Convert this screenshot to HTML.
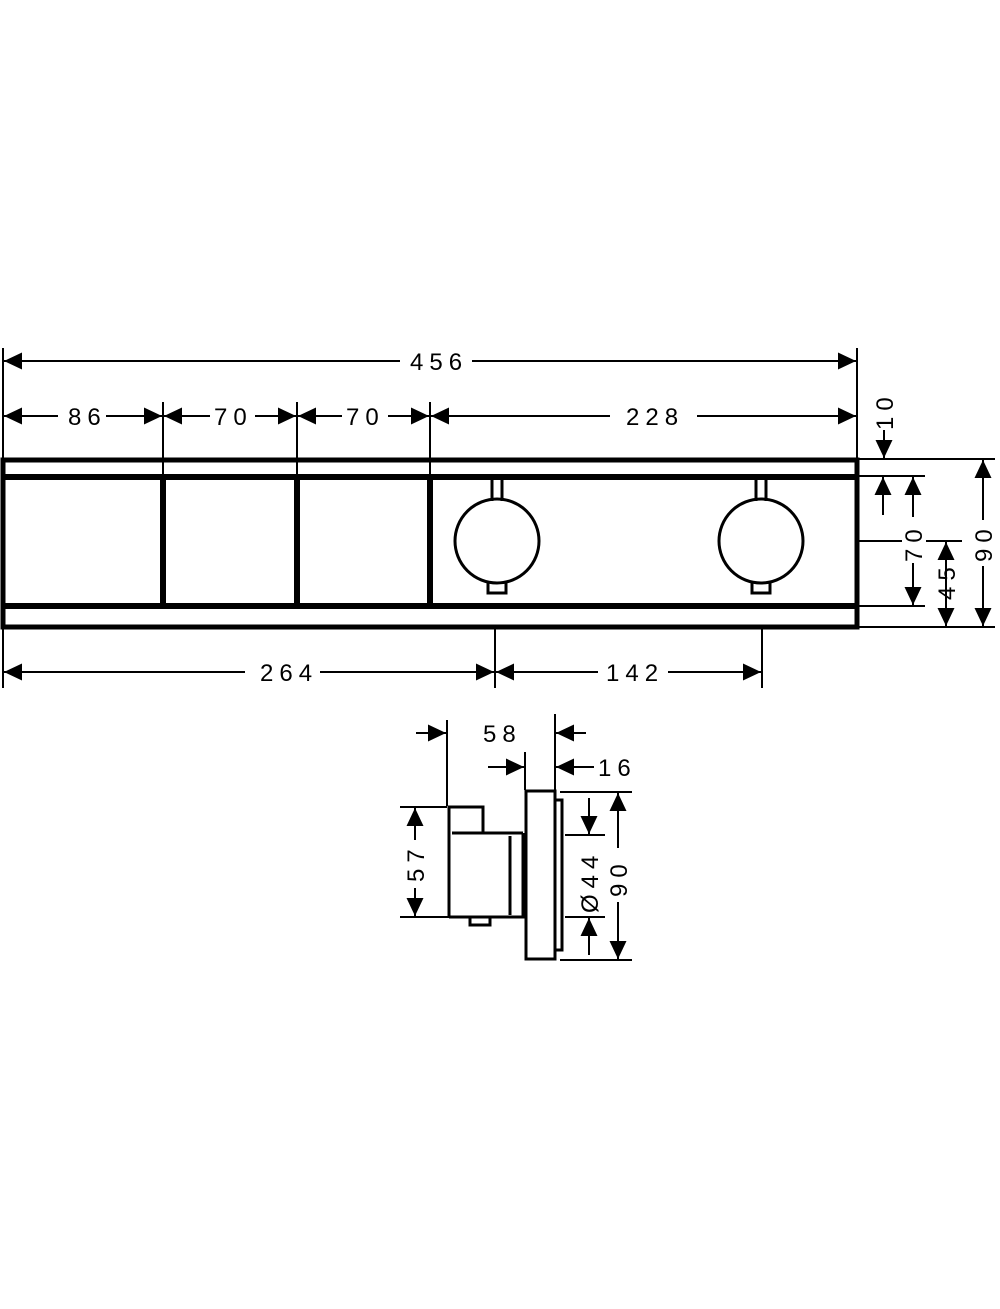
<!DOCTYPE html>
<html><head><style>body{margin:0;background:#fff}svg{display:block}text{font-family:"Liberation Sans",sans-serif;font-size:24px;letter-spacing:6px;fill:#000}</style></head><body>
<svg width="1000" height="1309" viewBox="0 0 1000 1309" xmlns="http://www.w3.org/2000/svg">
<defs>
<marker id="a" viewBox="0 0 10 10" refX="10" refY="5" markerWidth="18" markerHeight="17" markerUnits="userSpaceOnUse" orient="auto-start-reverse" preserveAspectRatio="none"><path d="M0,0L10,5L0,10z"/></marker>
</defs>
<g stroke="#000" stroke-width="2" fill="none">
<line x1="3" y1="348" x2="3" y2="459"/>
<line x1="857" y1="348" x2="857" y2="459"/>
<line x1="4" y1="361" x2="400" y2="361" marker-start="url(#a)"/>
<line x1="472" y1="361" x2="856" y2="361" marker-end="url(#a)"/>
<line x1="163" y1="402" x2="163" y2="476"/>
<line x1="297" y1="402" x2="297" y2="476"/>
<line x1="430" y1="402" x2="430" y2="476"/>
<line x1="4" y1="416" x2="58" y2="416" marker-start="url(#a)"/>
<line x1="106" y1="416" x2="162" y2="416" marker-end="url(#a)"/>
<line x1="164" y1="416" x2="210" y2="416" marker-start="url(#a)"/>
<line x1="255" y1="416" x2="296" y2="416" marker-end="url(#a)"/>
<line x1="298" y1="416" x2="342" y2="416" marker-start="url(#a)"/>
<line x1="388" y1="416" x2="429" y2="416" marker-end="url(#a)"/>
<line x1="431" y1="416" x2="610" y2="416" marker-start="url(#a)"/>
<line x1="697" y1="416" x2="856" y2="416" marker-end="url(#a)"/>
<line x1="3" y1="627" x2="3" y2="688"/>
<line x1="495" y1="627" x2="495" y2="688"/>
<line x1="762" y1="627" x2="762" y2="688"/>
<line x1="4" y1="672" x2="245" y2="672" marker-start="url(#a)"/>
<line x1="320" y1="672" x2="494" y2="672" marker-end="url(#a)"/>
<line x1="496" y1="672" x2="598" y2="672" marker-start="url(#a)"/>
<line x1="668" y1="672" x2="761" y2="672" marker-end="url(#a)"/>
<line x1="857" y1="459" x2="995" y2="459"/>
<line x1="857" y1="476" x2="925" y2="476"/>
<line x1="857" y1="541" x2="902" y2="541"/>
<line x1="926" y1="541" x2="962" y2="541"/>
<line x1="857" y1="606" x2="925" y2="606"/>
<line x1="857" y1="627" x2="995" y2="627"/>
<line x1="884" y1="430" x2="884" y2="458" marker-end="url(#a)"/>
<line x1="883" y1="515" x2="883" y2="477" marker-end="url(#a)"/>
<line x1="913" y1="517" x2="913" y2="477" marker-end="url(#a)"/>
<line x1="913" y1="563" x2="913" y2="605" marker-end="url(#a)"/>
<line x1="946" y1="600" x2="946" y2="542" marker-end="url(#a)"/>
<line x1="946" y1="600" x2="946" y2="626" marker-end="url(#a)"/>
<line x1="983" y1="520" x2="983" y2="460" marker-end="url(#a)"/>
<line x1="983" y1="566" x2="983" y2="626" marker-end="url(#a)"/>
</g>
<g stroke="#000" fill="none">
<rect x="3" y="460" width="854" height="167" stroke-width="5"/>
<line x1="3" y1="477" x2="857" y2="477" stroke-width="6"/>
<line x1="3" y1="606" x2="857" y2="606" stroke-width="6"/>
<line x1="163" y1="477" x2="163" y2="606" stroke-width="6"/>
<line x1="297" y1="477" x2="297" y2="606" stroke-width="6"/>
<line x1="430" y1="477" x2="430" y2="606" stroke-width="6"/>
<g stroke-width="3">
<circle cx="497" cy="541" r="42"/>
<path d="M492,480V501M502,480V501"/>
<path d="M488,583V593H506V583"/>
<circle cx="761" cy="541" r="42"/>
<path d="M756,480V501M766,480V501"/>
<path d="M752,583V593H770V583"/>
</g>
</g>
<text x="410" y="370">456</text>
<text x="68" y="425">86</text>
<text x="214" y="425">70</text>
<text x="346" y="425">70</text>
<text x="626" y="425">228</text>
<text x="260" y="681">264</text>
<text x="606" y="681">142</text>
<text transform="translate(893,430) rotate(-90)">10</text>
<text transform="translate(922,562) rotate(-90)">70</text>
<text transform="translate(955,600) rotate(-90)">45</text>
<text transform="translate(992,562) rotate(-90)">90</text>
<g stroke="#000" stroke-width="2" fill="none">
<line x1="447" y1="720" x2="447" y2="806"/>
<line x1="555" y1="714" x2="555" y2="790"/>
<line x1="525" y1="752" x2="525" y2="790"/>
<line x1="416" y1="733" x2="446" y2="733" marker-end="url(#a)"/>
<line x1="586" y1="733" x2="556" y2="733" marker-end="url(#a)"/>
<line x1="488" y1="767" x2="524" y2="767" marker-end="url(#a)"/>
<line x1="594" y1="767" x2="556" y2="767" marker-end="url(#a)"/>
<line x1="400" y1="807" x2="447" y2="807"/>
<line x1="400" y1="917" x2="449" y2="917"/>
<line x1="415" y1="840" x2="415" y2="808" marker-end="url(#a)"/>
<line x1="415" y1="888" x2="415" y2="916" marker-end="url(#a)"/>
<line x1="560" y1="792" x2="632" y2="792"/>
<line x1="560" y1="960" x2="632" y2="960"/>
<line x1="565" y1="835" x2="605" y2="835"/>
<line x1="565" y1="917" x2="605" y2="917"/>
<line x1="589" y1="798" x2="589" y2="834" marker-end="url(#a)"/>
<line x1="589" y1="955" x2="589" y2="918" marker-end="url(#a)"/>
<line x1="618" y1="848" x2="618" y2="793" marker-end="url(#a)"/>
<line x1="618" y1="902" x2="618" y2="959" marker-end="url(#a)"/>
</g>
<g stroke="#000" stroke-width="3" fill="none">
<rect x="526" y="791" width="29" height="168"/>
<path d="M555,800H562V950H555"/>
<path d="M449,917V807H483V833H523"/>
<path d="M449,917H523V833"/>
<line x1="452" y1="833" x2="483" y2="833"/>
<line x1="510" y1="836" x2="510" y2="915"/>
<path d="M470,917V925H490V917"/>
</g>
<text x="483" y="742">58</text>
<text x="598" y="776">16</text>
<text transform="translate(424,882) rotate(-90)">57</text>
<text transform="translate(598,913) rotate(-90)">Ø44</text>
<text transform="translate(627,897) rotate(-90)">90</text>
</svg>
</body></html>
